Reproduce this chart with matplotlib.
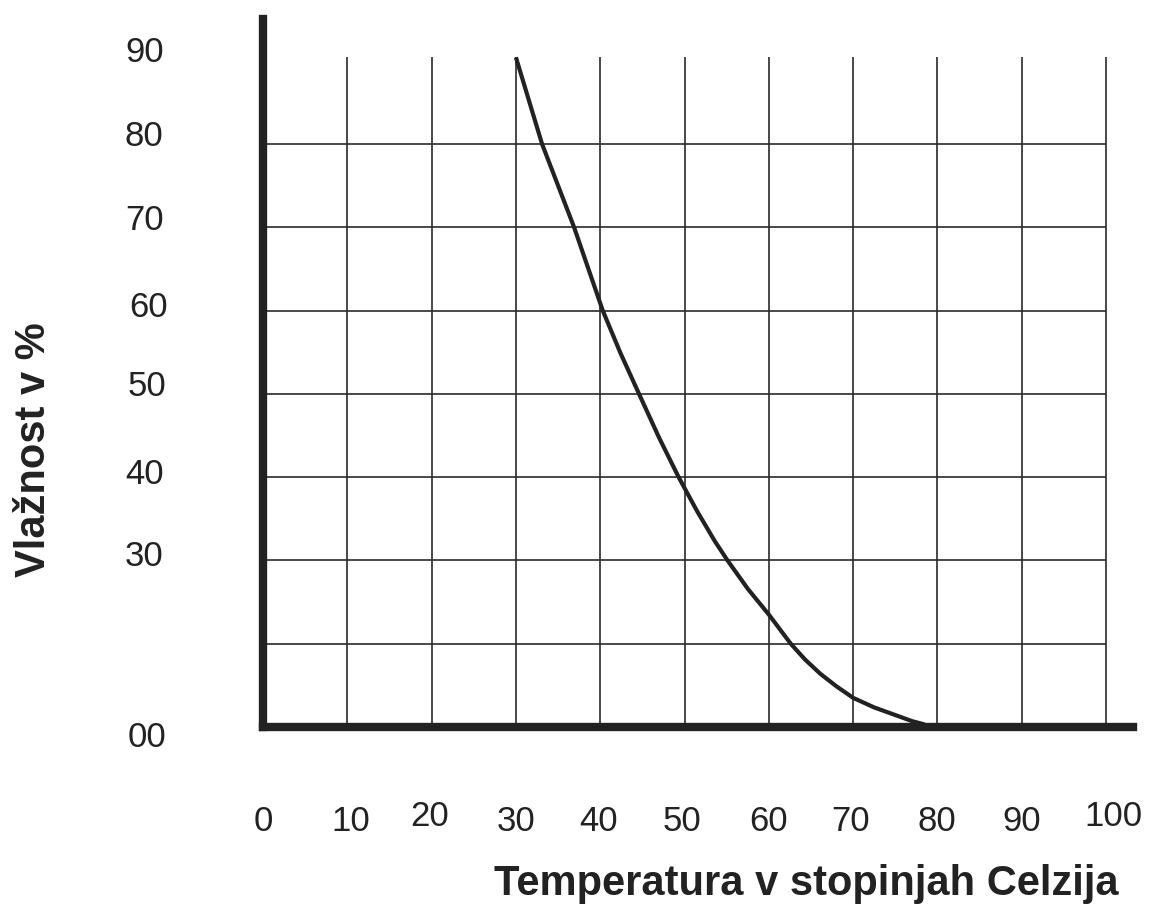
import matplotlib
matplotlib.use("Agg")
import matplotlib.pyplot as plt
from matplotlib.transforms import ScaledTranslation

# curve (temperature, humidity)
temp = [30, 33.1, 35.0, 36.9, 38.6, 40.3, 42.4, 44.6, 47.0, 49.3, 51.5, 53.6, 55.1,
        57.5, 60, 62.6, 64.3, 66.1, 68.0, 70, 72.5, 75.1, 77.0, 78.5]
humidity = [90.4, 80, 75.0, 70, 65.0, 60, 54.9, 50, 44.7, 40, 35.9, 32.3, 30,
            26.6, 23.5, 20, 18.1, 16.4, 14.9, 13.5, 12.35, 11.4, 10.7, 10.3]

x_grid = [10, 20, 30, 40, 50, 60, 70, 80, 90, 100]
y_grid = [20, 30, 40, 50, 60, 70, 80]

x_ticks = [0, 10, 20, 30, 40, 50, 60, 70, 80, 90, 100]
x_labels = ["0", "10", "20", "30", "40", "50", "60", "70", "80", "90", "100"]
y_ticks = [10, 30, 40, 50, 60, 70, 80, 90]
y_labels = ["00", "30", "40", "50", "60", "70", "80", "90"]

# small hand placement shifts of the labels (pixels, right / down)
x_shift = [(0, 0), (3, 0), (-2, -5), (0, 0), (-2, 0), (-3, 0), (0, 0), (-3, 0), (-1, 0), (0, 0), (7, -5)]
y_shift = [(1, 7), (-2, -7), (-2, -6), (1, -11), (2, -7), (-2, -10), (-2, -11), (-2, -12)]

INK = "#222222"


def shift(label, dx, dy, fig):
    label.set_transform(label.get_transform()
                        + ScaledTranslation(dx / 100, -dy / 100, fig.dpi_scale_trans))


def main():
    plt.rcParams["font.family"] = ["Liberation Sans", "DejaVu Sans"]
    fig = plt.figure(figsize=(11.5, 9.19), dpi=100)
    ax = fig.add_axes([263 / 1150, (919 - 727) / 919, 870 / 1150, 708 / 919])
    ax.set_xlim(0, 103.2)
    ax.set_ylim(10, 95.0)

    ax.vlines(x_grid, 10, 90.4, color="#2a2a2a", lw=1.2)
    ax.hlines(y_grid, 0, 100, color="#2a2a2a", lw=1.2)
    ax.plot(temp, humidity, color=INK, lw=3, solid_capstyle="butt", solid_joinstyle="round")

    for side in ("top", "right"):
        ax.spines[side].set_visible(False)
    for side in ("left", "bottom"):
        ax.spines[side].set_linewidth(6)
        ax.spines[side].set_color(INK)
        ax.spines[side].set_capstyle("projecting")

    ax.set_xticks(x_ticks, x_labels)
    ax.set_yticks(y_ticks, y_labels)
    ax.tick_params(axis="x", length=0, pad=56.5, labelsize=25, labelcolor=INK)
    ax.tick_params(axis="y", length=0, pad=84, labelsize=25, labelcolor=INK)
    for lab in ax.get_yticklabels():
        lab.set_horizontalalignment("center")

    for lab, (dx, dy) in zip(ax.get_xticklabels(), x_shift):
        shift(lab, dx, dy, fig)
    for lab, (dx, dy) in zip(ax.get_yticklabels(), y_shift):
        shift(lab, dx, dy, fig)

    fig.text(806 / 1150, (919 - 895) / 919, "Temperatura v stopinjah Celzija",
             ha="center", va="baseline", fontsize=30, fontweight="bold", color=INK)
    fig.text(34 / 1150, (919 - 450) / 919, "Vlažnost v %", rotation=90,
             ha="center", va="center", fontsize=30, fontweight="bold", color=INK)

    fig.savefig("out.png", dpi=100, facecolor="white")


if __name__ == "__main__":
    main()
